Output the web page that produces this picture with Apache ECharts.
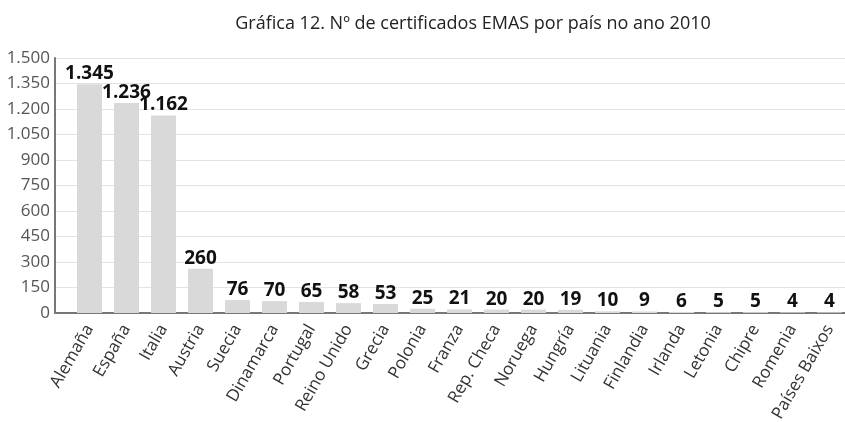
<!DOCTYPE html>
<html style="height: 100%">
    <head>
        <meta charset="utf-8">
    </head>
    <body style="height: 100%; margin: 0">
        <div id="container" style="width: 845px; height: 422px"></div>

        <script type="text/javascript" src="https://cdn.jsdelivr.net/npm/echarts@6/dist/echarts.min.js"></script>
        <script type="text/javascript">
var countries = ['Alemaña', 'España', 'Italia', 'Austria', 'Suecia', 'Dinamarca', 'Portugal',
    'Reino Unido', 'Grecia', 'Polonia', 'Franza', 'Rep. Checa', 'Noruega', 'Hungría',
    'Lituania', 'Finlandia', 'Irlanda', 'Letonia', 'Chipre', 'Romenia', 'Países Baixos'];
var certificados = [1345, 1236, 1162, 260, 76, 70, 65, 58, 53, 25, 21, 20, 20, 19, 10, 9, 6, 5, 5, 4, 4];
var yMax = 1500;
var yStep = 150;

var dom = document.getElementById("container");
var myChart = echarts.init(dom);

// miles con punto: 1.345
function fmt(v) {
    return String(v).replace(/\B(?=(\d{3})+(?!\d))/g, '.');
}

var fontFamily = '"Open Sans", sans-serif';

var option = {
    animation: false,
    textStyle: { fontFamily: fontFamily },
    title: {
        text: 'Gráfica 12. Nº de certificados EMAS por país no ano 2010',
        left: 468,
        top: 10,
        textAlign: 'center',
        textStyle: { fontSize: 18, fontWeight: 'normal', color: '#222', fontFamily: fontFamily }
    },
    // grid 0: axis lines, y labels and split lines; grid 1: the bars
    grid: [
        { left: 55, right: 0, top: 58, bottom: 109, outerBoundsMode: 'none' },
        { left: 71, right: -3, top: 58, bottom: 109, outerBoundsMode: 'none' }
    ],
    xAxis: [{
        gridIndex: 0,
        type: 'value',
        min: 0,
        max: 1,
        axisLine: { show: true, lineStyle: { color: '#777', width: 2 } },
        axisTick: { show: false },
        axisLabel: { show: false },
        splitLine: { show: false }
    }, {
        gridIndex: 1,
        type: 'category',
        data: countries,
        axisLine: { show: false },
        axisTick: { show: false },
        axisLabel: {
            interval: 0,
            rotate: 60,
            fontSize: 17,
            color: '#333',
            margin: 13
        }
    }],
    yAxis: [{
        gridIndex: 0,
        type: 'value',
        min: 0,
        max: yMax,
        interval: yStep,
        axisLine: { show: true, lineStyle: { color: '#777', width: 2 } },
        axisTick: { show: false },
        axisLabel: {
            fontSize: 17,
            color: '#555',
            margin: 5,
            formatter: fmt
        },
        splitLine: { lineStyle: { color: '#e3e3e3', width: 1 } }
    }, {
        gridIndex: 1,
        type: 'value',
        min: 0,
        max: yMax,
        interval: yStep,
        show: false,
        splitLine: { show: false }
    }],
    series: [{
        type: 'bar',
        xAxisIndex: 1,
        yAxisIndex: 1,
        data: certificados,
        barWidth: 25,
        itemStyle: { color: '#d9d9d9' },
        label: {
            show: true,
            position: 'top',
            distance: 1,
            fontSize: 19,
            fontWeight: 'bold',
            color: '#111',
            formatter: function (p) { return fmt(p.value); }
        }
    }]
};

if (option && typeof option === 'object') {
    myChart.setOption(option);
}
        </script>
    </body>
</html>
